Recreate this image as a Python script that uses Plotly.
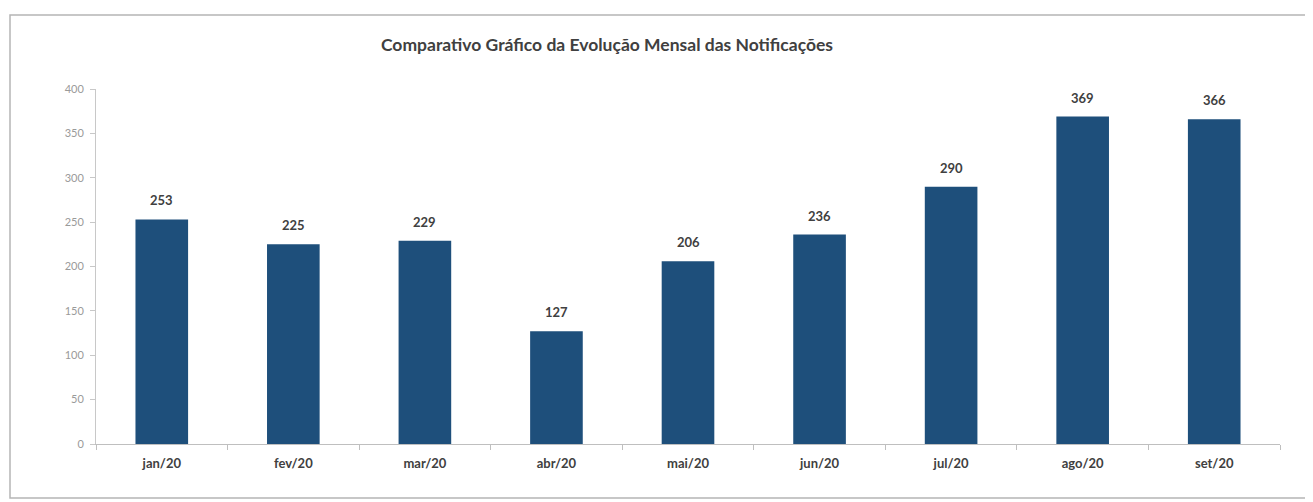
import plotly.graph_objects as go

categories = ["jan/20", "fev/20", "mar/20", "abr/20", "mai/20", "jun/20", "jul/20", "ago/20", "set/20"]
values = [253, 225, 229, 127, 206, 236, 290, 369, 366]
y_ticks = [0, 50, 100, 150, 200, 250, 300, 350, 400]
title_text = "Comparativo Gráfico da Evolução Mensal das Notificações"

# page has an 8px body margin; figure is sized to fill the rest
OFF = 8
W, H = 1313 - OFF, 502 - OFF
L, R, T, B = 96 - OFF, 33, 89 - OFF, 58
pw = W - L - R
ph = H - T - B

def px_x(x):
    return (x - OFF - L) / pw

def px_y(y):
    return (H - B - (y - OFF)) / ph

fig = go.Figure(go.Bar(
    x=categories, y=values,
    marker=dict(color="#1e4f7b", line=dict(width=0)),
    cliponaxis=False,
    hoverinfo="x+y",
))

annotations = [
    dict(x=c, y=v, xref="x", yref="y", text=str(v), showarrow=False,
         yanchor="bottom", yshift=9,
         font=dict(family="Lato", size=13, color="#404040", weight="bold"))
    for c, v in zip(categories, values)
]

fig.update_layout(
    width=W, height=H,
    margin=dict(l=L, r=R, t=T, b=B),
    paper_bgcolor="white", plot_bgcolor="white",
    bargap=0.6,
    showlegend=False,
    annotations=annotations,
    title=dict(text=title_text, x=(607 - OFF) / W, xanchor="center",
               y=1 - (45 - OFF) / H, yanchor="middle",
               font=dict(family="Lato", size=17.5, color="#404040", weight="bold")),
    xaxis=dict(showline=True, linecolor="#bfbfbf", linewidth=1,
               ticks="outside", tickson="boundaries", ticklen=5, tickcolor="#bfbfbf",
               ticklabelstandoff=7,
               tickfont=dict(family="Lato", size=13, color="#404040", weight="bold"),
               showgrid=False),
    yaxis=dict(range=[0, 400], tickvals=y_ticks, showline=True, linecolor="#c8c8c8",
               linewidth=1, ticks="outside", ticklen=5, tickcolor="#c8c8c8",
               ticklabelstandoff=4,
               tickfont=dict(family="Lato", size=11, color="#9a9a9a"),
               showgrid=False, zeroline=False),
    shapes=[dict(type="rect", xref="paper", yref="paper",
                 x0=px_x(10), x1=px_x(1311), y0=px_y(498), y1=px_y(15),
                 line=dict(color="#b5b5b5", width=1.5), fillcolor="rgba(0,0,0,0)", layer="below")],
)
fig.write_html("out.html")
